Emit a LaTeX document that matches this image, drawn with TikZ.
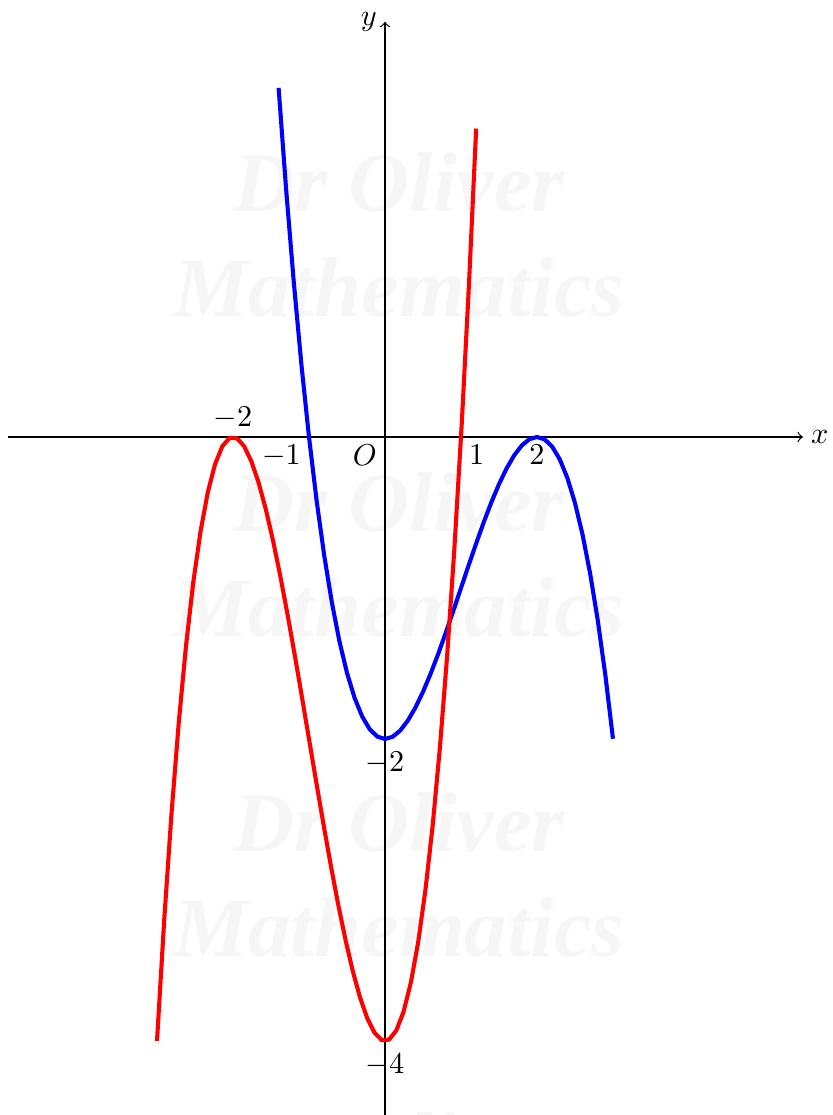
\documentclass[tikz,border=0pt]{standalone}
\usepackage{fontspec}
\newfontfamily\wmfont{Liberation Serif}
\definecolor{wmgray}{HTML}{F6F6F6}
\tikzset{
  wmark/.style={text=wmgray, font=\wmfont\bfseries\itshape\fontsize{28}{30}\selectfont, inner sep=0pt},
  axis/.style={->, line width=0.4pt},
  curve/.style={line width=1.35pt, line join=round},
  lbl/.style={inner sep=2.5pt},
  lblv/.style={inner sep=4pt}
}
\begin{document}
\begin{tikzpicture}[x=0.88372cm, y=1.75581cm]
\useasboundingbox (-5.0658,2.8940) rectangle (5.8947,-4.4901);
% watermark
\node[wmark] (w0b) at (0.184,3.106) {Mathematics};
\node[wmark] (w1a) at (0.184,1.682) {Dr Oliver};
\node[wmark] (w1b) at (0.184,0.987) {Mathematics};
\node[wmark] (w2a) at (0.184,-0.437) {Dr Oliver};
\node[wmark] (w2b) at (0.184,-1.132) {Mathematics};
\node[wmark] (w3a) at (0.184,-2.556) {Dr Oliver};
\node[wmark] (w3b) at (0.184,-3.252) {Mathematics};
\node[wmark] (w4a) at (0.184,-4.675) {Dr Oliver};
% axes
\coordinate (xl) at (-4.96,0);
\coordinate (xr) at (5.5,0);
\coordinate (yb) at (0,-4.4901);
\coordinate (yt) at (0,2.75);
\draw[axis] (xl) -- (xr) node[right, lbl] (xlab) {$x$};
\draw[axis] (yb) -- (yt) node[left, lbl] (ylab) {$y$};
% curves
\draw[curve, blue] plot[domain=-1.4:3, samples=45] (\x, {-0.5*(\x)^3+1.5*(\x)^2-2});
\draw[curve, red] plot[domain=-3:1.2, samples=45] (\x, {(\x)^3+3*(\x)^2-4});
% labels
\node[above, lbl] (lm2) at (-2,0) {$-2$};
\node[below left, lbl] (lm1) at (-1,0) {$-1$};
\node[below left, lbl] (lO) at (0,0) {$O$};
\node[below right, lbl] (l1) at (1,0) {$1$};
\node[below, lbl] (l2) at (2,0) {$2$};
\node[below, lblv] (ly2) at (0,-2) {$-2$};
\node[below, lblv] (ly4) at (0,-4) {$-4$};
\end{tikzpicture}
\end{document}
